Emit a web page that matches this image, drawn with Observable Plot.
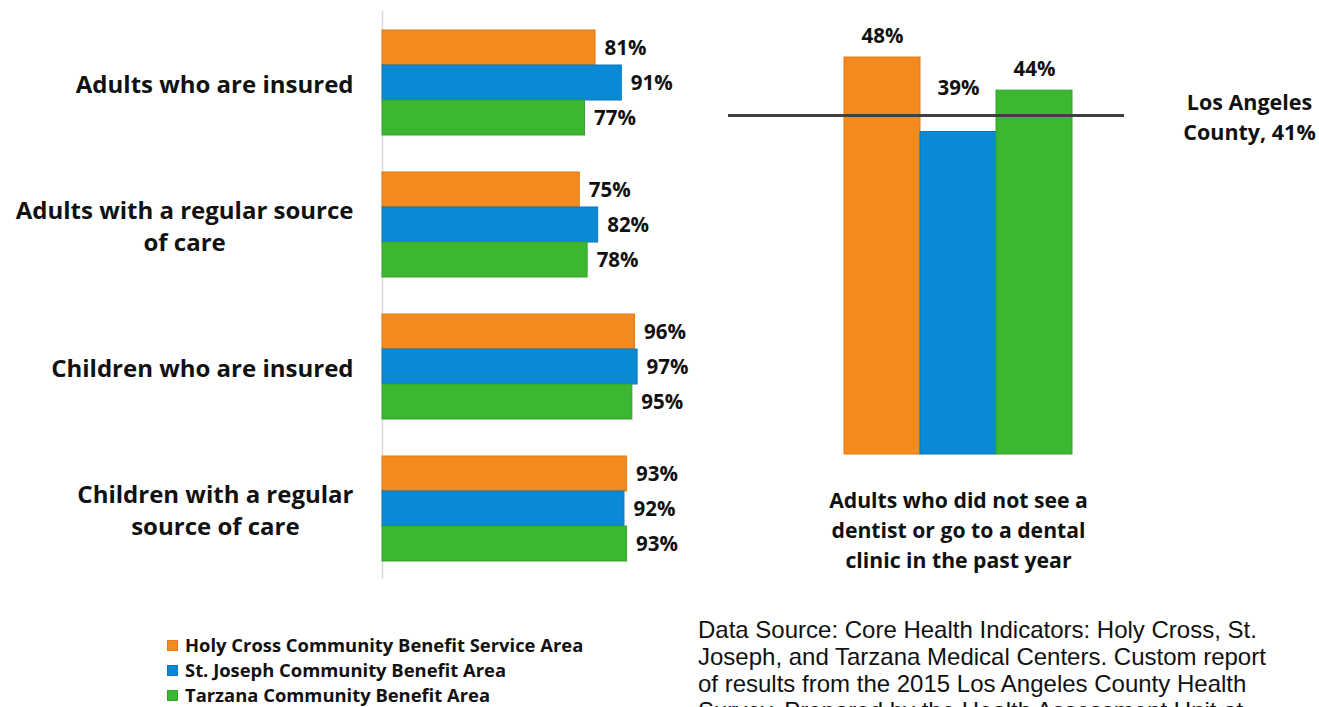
<!DOCTYPE html>
<html>
<head>
<meta charset="utf-8">
<script src="https://cdn.jsdelivr.net/npm/d3@7"></script>
<script src="https://cdn.jsdelivr.net/npm/@observablehq/plot@0.6"></script>
<style>
  html, body { margin: 0; padding: 0; background: #fff; }
  #page { position: relative; width: 1319px; height: 707px; overflow: hidden; background: #fff; }
  #left { position: absolute; left: 0; top: 0; }
  #right { position: absolute; left: 700px; top: 0; }
  #legend { position: absolute; left: 167px; top: 633px; font-family: "Open Sans", Lato, sans-serif; font-weight: 700; font-size: 18.4px; line-height: 1; color: #111; }
  #legend .row { display: flex; align-items: center; height: 25px; white-space: nowrap; }
  #legend .sw { width: 11px; height: 11px; margin-right: 7px; box-sizing: border-box; }
  #source { position: absolute; left: 698px; top: 616px; font-family: "Liberation Sans", Arial, sans-serif; font-size: 24px; line-height: 27px; color: #111; white-space: nowrap; }
  svg { overflow: visible; }
</style>
</head>
<body>
<div id="page">
  <div id="left"></div>
  <div id="right"></div>
  <div id="legend"></div>
  <div id="source"></div>
</div>
<script>
// ---- data ----
const series = [
  "Holy Cross Community Benefit Service Area",
  "St. Joseph Community Benefit Area",
  "Tarzana Community Benefit Area"
];
const categories = [
  "Adults who are insured",
  "Adults with a regular source\nof care",
  "Children who are insured",
  "Children with a regular\nsource of care"
];
const holyCross = [81, 75, 96, 93];
const stJoseph  = [91, 82, 97, 92];
const tarzana   = [77, 78, 95, 93];

const dentalCategory = "Adults who did not see a\ndentist or go to a dental\nclinic in the past year";
const dentalValues = [48, 39, 44];
const countyValue = 41;
const countyLabel = "Los Angeles\nCounty, ";

const colors = ["#F28A1D", "#0A89D5", "#3BB731"];
const strokes = ["#E27A12", "#0D76BE", "#33A52A"];

const sourceLines = [
  "Data Source: Core Health Indicators: Holy Cross, St.",
  "Joseph, and Tarzana Medical Centers. Custom report",
  "of results from the 2015 Los Angeles County Health",
  "Survey. Prepared by the Health Assessment Unit at"
];

// ---- tables ----
const allValues = [holyCross, stJoseph, tarzana];
const rows = [];
categories.forEach((c, i) => series.forEach((s, j) => rows.push({category: c, series: s, value: allValues[j][i]})));
const dental = series.map((s, j) => ({series: s, value: dentalValues[j]}));

const fontBold = "'Open Sans', Lato, sans-serif";

// ---- left chart ----
const left = Plot.plot({
  width: 700,
  height: 590,
  marginLeft: 382,
  marginRight: 55,
  marginTop: 11,
  marginBottom: 11,
  style: {fontFamily: fontBold, background: "transparent", overflow: "visible"},
  x: {domain: [0, 100], axis: null},
  y: {domain: series, axis: null, paddingInner: 0, paddingOuter: 0.5},
  fy: {domain: categories, axis: null, padding: 0},
  color: {domain: series, range: colors},
  marks: [
    Plot.ruleX([0], {stroke: "#d9d9d9", strokeWidth: 1.5}),
    Plot.barX(rows, {fy: "category", y: "series", x: "value", fill: "series",
      stroke: d => strokes[series.indexOf(d.series)], strokeWidth: 1, inset: 0}),
    Plot.text(rows, {fy: "category", y: "series", x: "value", text: d => d.value + "%",
      dx: 9, textAnchor: "start", fontSize: 20.5, fontWeight: 700, fill: "#111"}),
    Plot.text(categories, {fy: d => d, text: d => d, frameAnchor: "left", dx: -29,
      textAnchor: "end", fontSize: 24, fontWeight: 700, lineHeight: 1.35, fill: "#111"})
  ]
});
document.getElementById("left").appendChild(left);

// center multi-line category labels within their block (block right-aligned)
left.querySelectorAll("text").forEach(t => {
  const ts = t.querySelectorAll("tspan");
  if (ts.length < 2) return;
  const W = Math.max(...Array.from(ts).map(s => s.getComputedTextLength()));
  t.setAttribute("text-anchor", "middle");
  t.style.textAnchor = "middle";
  ts.forEach(s => {
    const x0 = +(s.getAttribute("x") ?? t.getAttribute("x") ?? 0);
    s.setAttribute("x", x0 - W / 2);
  });
});

// ---- right chart ----
const right = Plot.plot({
  width: 619,
  height: 590,
  marginLeft: 28,
  marginRight: 195,
  marginTop: 40.5,
  marginBottom: 136,
  style: {fontFamily: fontBold, background: "transparent", overflow: "visible"},
  x: {domain: series, range: [144, 372], padding: 0, axis: null},
  y: {domain: [0, 50], axis: null},
  color: {domain: series, range: colors},
  marks: [
    Plot.barY(dental, {x: "series", y: "value", fill: "series",
      stroke: d => strokes[series.indexOf(d.series)], strokeWidth: 1}),
    Plot.ruleY([countyValue], {stroke: "#404040", strokeWidth: 3}),
    Plot.text(dental.filter(d => d.value >= countyValue), {x: "series", y: "value",
      text: d => d.value + "%", dy: -21, fontSize: 20.5, fontWeight: 700, fill: "#111"}),
    Plot.text(dental.filter(d => d.value < countyValue), {x: "series", y: () => countyValue,
      text: d => d.value + "%", dy: -27, fontSize: 20.5, fontWeight: 700, fill: "#111"}),
    Plot.text([countyValue], {y: d => d, text: d => countyLabel + d + "%", frameAnchor: "right",
      dx: 125, textAnchor: "middle", fontSize: 21.5, fontWeight: 700, lineHeight: 1.4, fill: "#111"}),
    Plot.text([dentalCategory], {x: () => series[1], text: d => d, frameAnchor: "bottom",
      lineAnchor: "top", dy: 32, fontSize: 21.2, fontWeight: 700, lineHeight: 1.41, fill: "#111"})
  ]
});
document.getElementById("right").appendChild(right);

// ---- legend ----
const legend = d3.select("#legend");
series.forEach((s, j) => {
  const r = legend.append("div").attr("class", "row");
  r.append("div").attr("class", "sw").style("background", colors[j]).style("border", `1px solid ${strokes[j]}`);
  r.append("span").text(s);
});

// ---- source ----
d3.select("#source").selectAll("div").data(sourceLines).join("div").text(d => d);
</script>
</body>
</html>
